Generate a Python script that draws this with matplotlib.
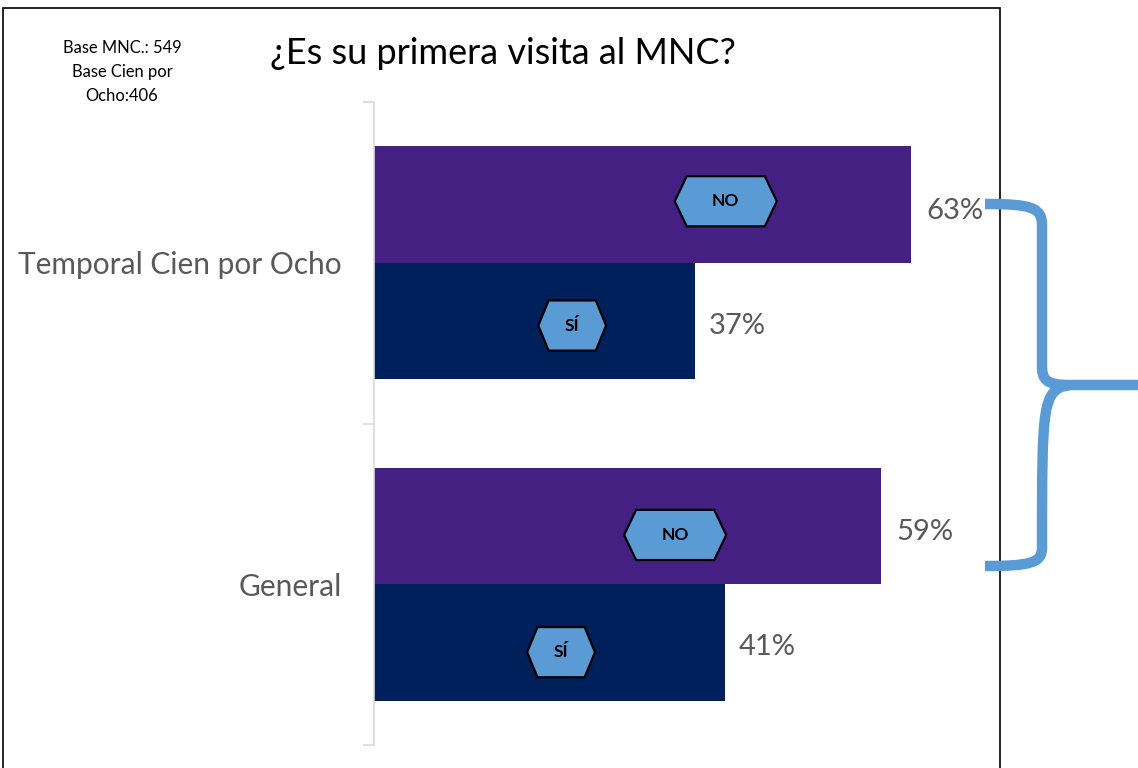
import matplotlib
matplotlib.use("Agg")
from matplotlib import pyplot as plt
from matplotlib.patches import Polygon, Rectangle, PathPatch
from matplotlib.path import Path

plt.rcParams['font.family'] = ['Lato', 'DejaVu Sans']

categories = ['General', 'Temporal Cien por Ocho']
no_vals = [59.1, 62.6]
si_vals = [40.9, 37.4]
no_label = 'NO'
si_label = 'SÍ'
title = '¿Es su primera visita al MNC?'
base_note = 'Base MNC.: 549\nBase Cien por\nOcho:406'

# where the hexagon tags sit on each bar
no_tag_x = [35.1, 41.0]
si_tag_x = [21.8, 23.1]

PURPLE = '#452083'
NAVY = '#00205B'
BLUE = '#5B9BD5'
GRAY = '#595959'

W, H = 1138, 768
fig = plt.figure(figsize=(W / 100, H / 100), dpi=100)

def fx(px):
    return px / W

def fy(py):
    return 1 - py / H

ax = fig.add_axes([fx(374), fy(745), fx(974.6) - fx(374), fy(102) - fy(745)])
bh = 0.3625
ypos = [0, 1]
ax.barh([y + bh / 2 for y in ypos], no_vals, height=bh, color=PURPLE)
ax.barh([y - bh / 2 for y in ypos], si_vals, height=bh, color=NAVY)
ax.set_xlim(0, 70)
ax.set_ylim(-0.5, 1.5)

for s in ['top', 'right', 'bottom']:
    ax.spines[s].set_visible(False)
ax.spines['left'].set_color('#D9D9D9')
ax.spines['left'].set_linewidth(1.2)
ax.set_xticks([])
ax.set_yticks(ypos)
ax.set_yticklabels(categories, fontsize=21.5, color=GRAY)
ax.tick_params(axis='y', which='major', length=0, pad=23)
ax.set_yticks([-0.5, 0.5, 1.5], minor=True)
ax.tick_params(axis='y', which='minor', length=8, color='#D9D9D9', width=1.2)

for y, v in zip(ypos, no_vals):
    ax.text(v + 1.8, y + bh / 2 - 0.02, '%d%%' % round(v), fontsize=21,
            color=GRAY, va='center', ha='left')
for y, v in zip(ypos, si_vals):
    ax.text(v + 1.6, y - bh / 2 - 0.015, '%d%%' % round(v), fontsize=21,
            color=GRAY, va='center', ha='left')


def hexagon(cx, cy, w, hh, tip, text):
    pts = [(cx - w / 2, cy), (cx - w / 2 + tip, cy + hh), (cx + w / 2 - tip, cy + hh),
           (cx + w / 2, cy), (cx + w / 2 - tip, cy - hh), (cx - w / 2 + tip, cy - hh)]
    ax.add_patch(Polygon(pts, closed=True, facecolor=BLUE, edgecolor='black',
                         linewidth=1.6, zorder=3))
    ax.text(cx, cy, text, fontsize=12.5, fontweight='bold', ha='center', va='center',
            zorder=4)


hexagon(no_tag_x[0], 0 + bh / 2 - 0.028, 11.9, 0.078, 1.4, no_label)
hexagon(no_tag_x[1], 1 + bh / 2 + 0.01, 11.9, 0.078, 1.4, no_label)
hexagon(si_tag_x[0], 0 - bh / 2 - 0.03, 7.9, 0.078, 1.2, si_label)
hexagon(si_tag_x[1], 1 - bh / 2 - 0.014, 7.9, 0.078, 1.2, si_label)

# outer frame
fig.patches.append(Rectangle((fx(3), fy(800)), fx(1000) - fx(3), fy(8) - fy(800),
                             transform=fig.transFigure, fill=False,
                             edgecolor='black', linewidth=1.2))

fig.text(fx(503), fy(53), title, fontsize=26, ha='center', va='center')
fig.text(fx(122), fy(72), base_note, fontsize=11.9, ha='center', va='center',
         linespacing=1.62)

# brace
verts = [(985, 204), (1030, 204), (1042, 207), (1042, 225),
         (1042, 365),
         (1042, 380), (1046, 385), (1070, 385),
         (1138, 385),
         (1070, 385), (1042, 389), (1042, 405),
         (1042, 548),
         (1042, 563), (1030, 566), (985, 566)]
codes = [Path.MOVETO, Path.CURVE4, Path.CURVE4, Path.CURVE4,
         Path.LINETO,
         Path.CURVE4, Path.CURVE4, Path.CURVE4,
         Path.LINETO,
         Path.MOVETO, Path.CURVE4, Path.CURVE4,
         Path.LINETO,
         Path.CURVE4, Path.CURVE4, Path.CURVE4]
verts = [(fx(x), fy(y)) for x, y in verts]
fig.patches.append(PathPatch(Path(verts, codes), transform=fig.transFigure,
                             fill=False, edgecolor=BLUE, linewidth=7.5,
                             capstyle='butt', joinstyle='round'))

fig.savefig('out.png', dpi=100)
